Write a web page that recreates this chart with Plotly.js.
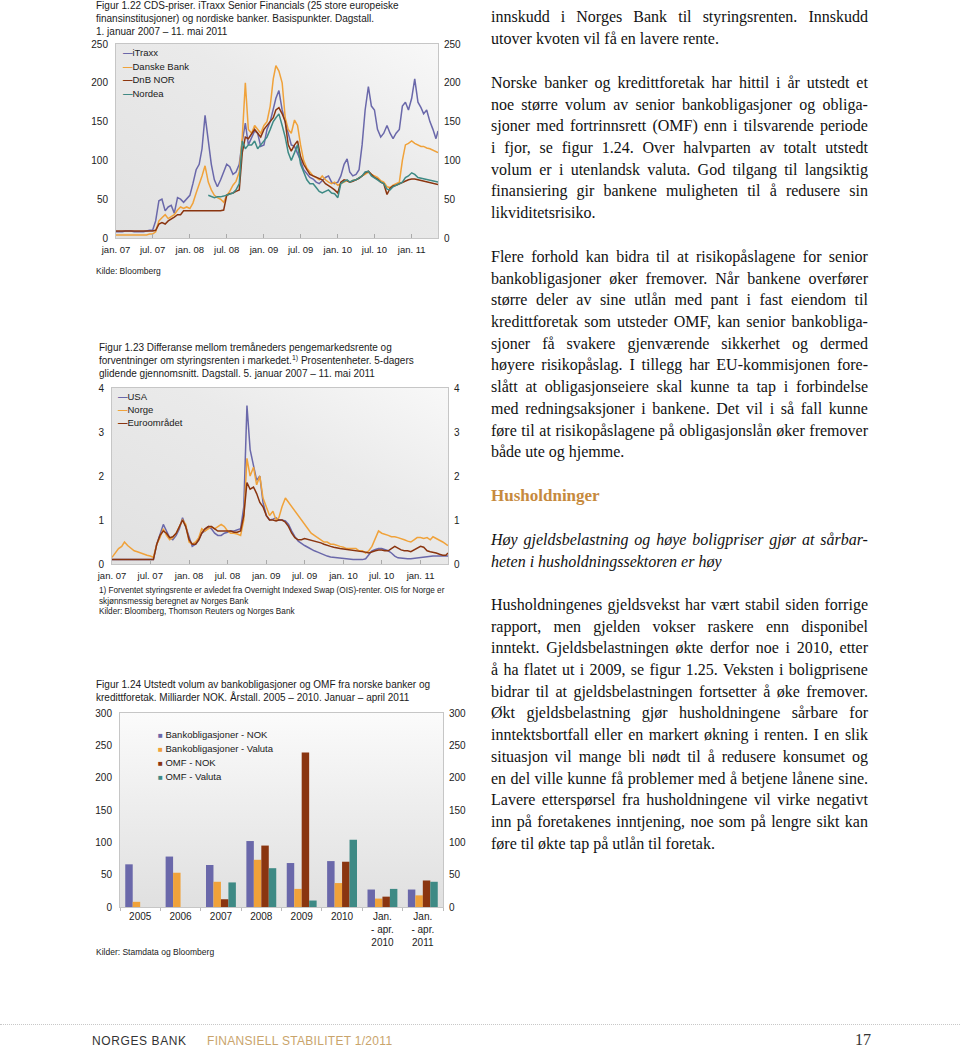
<!DOCTYPE html>
<html>
<head>
<meta charset="utf-8">
<script src="https://cdn.plot.ly/plotly-3.0.1.min.js"></script>
<style>
  html, body { margin:0; padding:0; background:#fff; }
  #page { position:relative; width:960px; height:1050px; overflow:hidden; }
  #plot { position:absolute; left:0; top:0; width:960px; height:1050px; }
  .txt { position:absolute; left:491px; width:377px; font-family:'Liberation Serif','Times New Roman',serif; font-size:16px; color:#111; }
  .ln { height:21.7px; line-height:21.7px; white-space:nowrap; }
  .jl { display:flex; justify-content:space-between; }
  .foot { position:absolute; font-family:'Liberation Sans Narrow','Liberation Sans',Arial,sans-serif; font-size:12px; }
</style>
</head>
<body>
<div id="page">
  <div id="plot"></div>
</div>
<script>
// ---------- DATA ----------
const dates = [
'2007-01-01','2007-01-16','2007-02-01','2007-02-16','2007-03-01','2007-03-16','2007-04-01','2007-04-16','2007-05-01','2007-05-16','2007-06-01','2007-06-16',
'2007-07-01','2007-07-16','2007-08-01','2007-08-16','2007-09-01','2007-09-16','2007-10-01','2007-10-16','2007-11-01','2007-11-16','2007-12-01','2007-12-16',
'2008-01-01','2008-01-16','2008-02-01','2008-02-16','2008-03-01','2008-03-16','2008-04-01','2008-04-16','2008-05-01','2008-05-16','2008-06-01','2008-06-16',
'2008-07-01','2008-07-16','2008-08-01','2008-08-16','2008-09-01','2008-09-16','2008-10-01','2008-10-16','2008-11-01','2008-11-16','2008-12-01','2008-12-16',
'2009-01-01','2009-01-16','2009-02-01','2009-02-16','2009-03-01','2009-03-16','2009-04-01','2009-04-16','2009-05-01','2009-05-16','2009-06-01','2009-06-16',
'2009-07-01','2009-07-16','2009-08-01','2009-08-16','2009-09-01','2009-09-16','2009-10-01','2009-10-16','2009-11-01','2009-11-16','2009-12-01','2009-12-16',
'2010-01-01','2010-01-16','2010-02-01','2010-02-16','2010-03-01','2010-03-16','2010-04-01','2010-04-16','2010-05-01','2010-05-16','2010-06-01','2010-06-16',
'2010-07-01','2010-07-16','2010-08-01','2010-08-16','2010-09-01','2010-09-16','2010-10-01','2010-10-16','2010-11-01','2010-11-16','2010-12-01','2010-12-16',
'2011-01-01','2011-01-16','2011-02-01','2011-02-16','2011-03-01','2011-03-16','2011-04-01','2011-04-16','2011-05-01','2011-05-11'];

// Figur 1.22 (basispunkter)
const names1 = ['iTraxx','Danske Bank','DnB NOR','Nordea'];
const itraxx = [
8,8,8,9,9,9,8,8,8,8,9,10,10,22,48,50,35,40,42,32,52,50,46,50,
55,70,88,95,115,158,125,95,75,66,75,85,95,92,82,85,95,125,148,120,130,138,135,118,
120,140,150,165,180,190,165,150,135,120,118,110,100,88,82,78,76,72,70,74,78,80,72,70,
72,80,95,102,85,80,82,88,120,165,195,170,165,140,130,135,145,135,128,135,140,170,175,165,
180,205,175,168,160,165,150,140,128,138];
const danske = [
4,4,4,4,4,4,4,4,4,4,4,5,5,8,22,26,30,25,27,30,36,40,38,40,
38,45,58,68,80,93,72,62,55,52,50,46,55,60,68,73,85,130,200,140,135,145,140,135,
145,150,170,205,222,215,200,155,140,135,152,145,120,100,90,85,80,78,75,80,75,72,70,72,
68,70,72,74,72,74,75,78,80,82,85,82,80,78,74,72,66,65,68,70,72,100,120,122,
125,122,120,118,118,116,115,113,111,110];
const dnbnor = [
9,9,9,9,9,9,9,9,9,9,9,9,9,10,18,20,18,22,25,27,30,30,35,35,
35,35,35,35,35,35,35,35,35,35,35,36,55,57,58,60,62,110,130,128,135,140,135,130,
140,145,150,155,165,168,160,150,120,112,120,125,105,95,88,82,80,78,77,75,70,68,65,62,
58,72,75,74,72,73,75,77,80,84,86,82,78,76,72,70,56,64,67,68,70,72,74,75,
76,76,75,74,74,73,72,71,70,69];
const nordea = [
null,null,null,null,null,null,null,null,null,null,null,null,null,null,null,null,null,null,null,null,null,null,null,null,
null,null,null,null,null,null,55,54,52,53,53,54,55,56,58,62,70,125,115,120,120,125,115,120,
125,130,140,150,155,160,145,130,110,100,110,120,95,85,75,70,70,65,60,58,60,62,58,57,
52,70,73,75,72,74,75,78,80,85,86,80,78,75,72,70,63,62,66,68,70,72,78,80,
84,82,78,77,76,75,74,73,72,72];

// Figur 1.23 (prosentenheter)
const names2 = ['USA','Norge','Euroområdet'];
const usa = [
0.1,0.1,0.1,0.1,0.1,0.1,0.1,0.1,0.1,0.1,0.1,0.1,0.1,0.1,0.45,0.65,0.9,0.75,0.6,0.55,0.65,0.8,1.05,0.85,
0.6,0.4,0.45,0.55,0.7,0.75,0.85,0.8,0.7,0.65,0.65,0.7,0.72,0.75,0.75,0.78,0.8,1.3,3.6,2.6,2.2,1.9,2.0,1.4,
1.1,1.0,1.02,1.05,1.0,1.0,0.98,0.9,0.75,0.62,0.52,0.46,0.42,0.38,0.33,0.3,0.27,0.24,0.2,0.18,0.16,0.15,0.14,0.13,
0.12,0.11,0.1,0.1,0.1,0.1,0.1,0.12,0.2,0.3,0.33,0.35,0.35,0.33,0.3,0.25,0.18,0.14,0.13,0.12,0.12,0.12,0.13,0.14,
0.15,0.15,0.16,0.17,0.18,0.18,0.18,0.19,0.18,0.18];
const norge = [
0.15,0.25,0.35,0.4,0.5,0.42,0.35,0.3,0.28,0.25,0.22,0.2,0.18,0.15,0.45,0.6,0.8,0.65,0.55,0.6,0.7,0.85,1.0,0.9,
0.5,0.45,0.5,0.6,0.8,0.75,0.8,0.85,0.8,0.85,0.9,0.85,0.75,0.7,0.7,0.68,0.65,1.0,2.4,2.0,2.2,1.8,2.0,1.5,
1.3,1.1,1.2,1.0,1.05,1.3,1.5,1.4,1.3,1.2,1.1,1.0,0.9,0.8,0.7,0.65,0.6,0.55,0.5,0.5,0.45,0.45,0.42,0.4,
0.38,0.35,0.35,0.35,0.35,0.3,0.3,0.25,0.3,0.4,0.6,0.75,0.7,0.68,0.65,0.62,0.62,0.6,0.58,0.55,0.52,0.5,0.55,0.6,
0.6,0.58,0.6,0.55,0.62,0.58,0.55,0.5,0.45,0.42];
const euro = [
0.1,0.1,0.1,0.1,0.1,0.1,0.1,0.1,0.1,0.1,0.1,0.1,0.1,0.1,0.45,0.65,0.75,0.7,0.6,0.62,0.7,0.85,1.0,0.85,
0.55,0.45,0.45,0.55,0.7,0.8,0.85,0.85,0.8,0.75,0.75,0.75,0.75,0.75,0.72,0.72,0.75,1.1,1.85,1.7,1.75,1.6,1.4,1.3,
1.1,1.0,1.0,0.98,1.0,1.0,0.95,0.85,0.7,0.6,0.55,0.55,0.58,0.56,0.55,0.52,0.5,0.48,0.45,0.42,0.4,0.38,0.36,0.35,
0.34,0.33,0.32,0.31,0.3,0.3,0.28,0.27,0.25,0.28,0.3,0.32,0.32,0.3,0.3,0.35,0.4,0.36,0.32,0.3,0.3,0.28,0.32,0.36,
0.4,0.38,0.3,0.28,0.27,0.25,0.22,0.2,0.2,0.25];

const tickDates = ['2007-01-01','2007-07-01','2008-01-01','2008-07-01','2009-01-01','2009-07-01','2010-01-01','2010-07-01','2011-01-01'];
const tickLabels = ['jan. 07','jul. 07','jan. 08','jul. 08','jan. 09','jul. 09','jan. 10','jul. 10','jan. 11'];

// Figur 1.24 (milliarder NOK)
const names3 = ['Bankobligasjoner - NOK','Bankobligasjoner - Valuta','OMF - NOK','OMF - Valuta'];
const barCategories = ['2005','2006','2007','2008','2009','2010','Jan.<br>- apr.<br>2010','Jan.<br>- apr.<br>2011'];
const bankNOK    = [66,78,65,102,68,71,27,27];
const bankValuta = [8,53,39,73,28,37,13,18];
const omfNOK     = [0,0,12,95,239,70,16,41];
const omfValuta  = [0,0,38,60,10,104,28,39];

// ---------- CHART ----------
const SANS = 'Liberation Sans, Arial, sans-serif';
const C_PURPLE = '#6a68aa', C_ORANGE = '#f0a23a', C_BROWN = '#8a3510', C_TEAL = '#3e8a85';
const colors = [C_PURPLE, C_ORANGE, C_BROWN, C_TEAL];
const W = 960, H = 1050;
const px = v => v / W;
const py = v => 1 - v / H;

const dom1 = {x:[px(116), px(438)], y:[py(238), py(44)]};
const dom2 = {x:[px(112), px(448)], y:[py(564), py(388)]};
const dom3 = {x:[px(120), px(443)], y:[py(907), py(713)]};

function line(x, y, name, color, xa, ya) {
  return {type:'scatter', mode:'lines', x:x, y:y, name:name, xaxis:xa, yaxis:ya, showlegend:false,
          line:{color:color, width:1.5}, connectgaps:false, hoverinfo:'skip'};
}
function bar(x, y, name, color) {
  return {type:'bar', x:x, y:y, name:name, xaxis:'x3', yaxis:'y5', showlegend:false,
          marker:{color:color, line:{width:0}}, hoverinfo:'skip'};
}
// empty helper traces so the mirrored right-hand value axes get drawn
function axisHelper(xa, ya) {
  return {type:'scatter', mode:'lines', x:[], y:[], xaxis:xa, yaxis:ya, showlegend:false, hoverinfo:'skip'};
}

const traces = [
  line(dates, itraxx, names1[0], C_PURPLE, 'x', 'y'),
  line(dates, danske, names1[1], C_ORANGE, 'x', 'y'),
  line(dates, dnbnor, names1[2], C_BROWN, 'x', 'y'),
  line(dates, nordea, names1[3], C_TEAL, 'x', 'y'),
  line(dates, usa, names2[0], C_PURPLE, 'x2', 'y3'),
  line(dates, norge, names2[1], C_ORANGE, 'x2', 'y3'),
  line(dates, euro, names2[2], C_BROWN, 'x2', 'y3'),
  bar(barCategories, bankNOK, names3[0], C_PURPLE),
  bar(barCategories, bankValuta, names3[1], C_ORANGE),
  bar(barCategories, omfNOK, names3[2], C_BROWN),
  bar(barCategories, omfValuta, names3[3], C_TEAL),
  axisHelper('x', 'y2'),
  axisHelper('x2', 'y4'),
  axisHelper('x3', 'y6')
];

const FRAME = '#c6c6c6';
function dateAxis(domain, anchor) {
  return {domain:domain, anchor:anchor, type:'date', range:['2007-01-01','2011-05-11'],
    tickmode:'array', tickvals:tickDates, ticktext:tickLabels, ticks:'inside', ticklen:4, tickcolor:'#aaa',
    showline:true, linecolor:FRAME, linewidth:1, mirror:true, showgrid:false, zeroline:false,
    ticklabelstandoff:3,
    tickfont:{size:9.5, color:'#222', family:SANS}, fixedrange:true};
}
function valAxis(domain, anchor, range, vals, right, over) {
  const a = {anchor:anchor, range:range, tickmode:'array', tickvals:vals, ticks:'',
    showgrid:false, zeroline:false, tickfont:{size:10, color:'#222', family:SANS},
    ticklabelstandoff:5, fixedrange:true};
  if (right) { a.overlaying = over; a.side = 'right'; a.showline = false; }
  else { a.domain = domain; a.showline = true; a.linecolor = FRAME; a.mirror = true; }
  return a;
}

function gradImg(domain, vertical) {
  const g = vertical
    ? "<linearGradient id='g' x1='0' y1='0' x2='0' y2='1'><stop offset='0' stop-color='#fbfbfb'/><stop offset='0.45' stop-color='#eeeeee'/><stop offset='1' stop-color='#e0e0e0'/></linearGradient>"
    : "<linearGradient id='g' x1='0' y1='1' x2='1' y2='0'><stop offset='0' stop-color='#e1e1e1'/><stop offset='0.6' stop-color='#eaeaea'/><stop offset='1' stop-color='#f8f8f8'/></linearGradient>";
  const svg = "<svg xmlns='http://www.w3.org/2000/svg' width='200' height='120' viewBox='0 0 200 120' preserveAspectRatio='none'><defs>" + g + "</defs><rect width='200' height='120' fill='url(#g)'/></svg>";
  return {source:'data:image/svg+xml;charset=utf-8,' + encodeURIComponent(svg), xref:'paper', yref:'paper',
    x:domain.x[0], y:domain.y[1], sizex:domain.x[1]-domain.x[0], sizey:domain.y[1]-domain.y[0],
    xanchor:'left', yanchor:'top', sizing:'stretch', layer:'below'};
}

function note(text, x, yc, size) {
  return {text:text, x:px(x), y:py(yc), xref:'paper', yref:'paper', xanchor:'left', yanchor:'middle',
    align:'left', showarrow:false, font:{family:SANS, size:size, color:'#1a1a1a'}};
}
// compact legend entries (line sample as a coloured dash, bar sample as a coloured square)
function legendEntries(names, x, y0, step, square) {
  return names.map((n, i) => note(
    square ? '<span style="color:' + colors[i] + ';font-size:8px">■</span> ' + n
           : '<span style="color:' + colors[i] + '"><b>—</b></span>' + n,
    x, y0 + i * step, 9.5));
}

const layout = {
  width:W, height:H, margin:{l:0, r:0, t:0, b:0, pad:0},
  paper_bgcolor:'#ffffff', plot_bgcolor:'rgba(0,0,0,0)',
  font:{family:SANS, size:10, color:'#222'}, hovermode:false, showlegend:false,
  barmode:'group', bargap:0.26, bargroupgap:0,
  xaxis: dateAxis(dom1.x, 'y'),
  yaxis: valAxis(dom1.y, 'x', [0,250], [0,50,100,150,200,250], false),
  yaxis2: valAxis(null, 'x', [0,250], [0,50,100,150,200,250], true, 'y'),
  xaxis2: dateAxis(dom2.x, 'y3'),
  yaxis3: valAxis(dom2.y, 'x2', [0,4], [0,1,2,3,4], false),
  yaxis4: valAxis(null, 'x2', [0,4], [0,1,2,3,4], true, 'y3'),
  xaxis3: {domain:dom3.x, anchor:'y5', type:'category', categoryorder:'array', categoryarray:barCategories,
    showline:true, linecolor:FRAME, mirror:true, ticks:'outside', ticklen:3, tickcolor:'#bbb', tickson:'boundaries',
    showgrid:false, zeroline:false, tickfont:{size:10, color:'#222', family:SANS}, fixedrange:true},
  yaxis5: valAxis(dom3.y, 'x3', [0,300], [0,50,100,150,200,250,300], false),
  yaxis6: valAxis(null, 'x3', [0,300], [0,50,100,150,200,250,300], true, 'y5'),
  images: [gradImg(dom1, false), gradImg(dom2, false), gradImg(dom3, true)],
  annotations: [
    note('Figur 1.22 CDS-priser. iTraxx Senior Financials (25 store europeiske<br>finansinstitusjoner) og nordiske banker. Basispunkter. Dagstall.<br>1. januar 2007 – 11. mai 2011', 94, 19, 10),
    note('Kilde: Bloomberg', 94, 271, 8.5),
    note('Figur 1.23 Differanse mellom tremåneders pengemarkedsrente og<br>forventninger om styringsrenten i markedet.<sup>1)</sup> Prosentenheter. 5-dagers<br>glidende gjennomsnitt. Dagstall. 5. januar 2007 – 11. mai 2011', 97, 360, 10),
    note('1) Forventet styringsrente er avledet fra Overnight Indexed Swap (OIS)-renter. OIS for Norge er<br>skjønnsmessig beregnet av Norges Bank<br>Kilder: Bloomberg, Thomson Reuters og Norges Bank', 97, 601, 8.2),
    note('Figur 1.24 Utstedt volum av bankobligasjoner og OMF fra norske banker og<br>kredittforetak. Milliarder NOK. Årstall. 2005 – 2010. Januar – april 2011', 94, 691, 10),
    note('Kilder: Stamdata og Bloomberg', 94, 952, 8.5)
  ].concat(
    legendEntries(names1, 121, 53, 13.4, false),
    legendEntries(names2, 116, 397, 12.7, false),
    legendEntries(names3, 156, 734, 14.3, true)
  )
};

Plotly.newPlot('plot', traces, layout, {staticPlot:true, displayModeBar:false});

// ---------- BODY TEXT (right column) ----------
const blocks = [
  {top:6, lines:['innskudd i Norges Bank til styringsrenten. Innskudd','utover kvoten vil få en lavere rente.']},
  {top:72, lines:['Norske banker og kredittforetak har hittil i år utstedt et','noe større volum av senior bankobligasjoner og obliga-','sjoner med fortrinnsrett (OMF) enn i tilsvarende periode','i fjor, se figur 1.24. Over halvparten av totalt utstedt','volum er i utenlandsk valuta. God tilgang til langsiktig','finansiering gir bankene muligheten til å redusere sin','likviditetsrisiko.']},
  {top:246, lines:['Flere forhold kan bidra til at risikopåslagene for senior','bankobligasjoner øker fremover. Når bankene overfører','større deler av sine utlån med pant i fast eiendom til','kredittforetak som utsteder OMF, kan senior bankobliga-','sjoner få svakere gjenværende sikkerhet og dermed','høyere risikopåslag. I tillegg har EU-kommisjonen fore-','slått at obligasjonseiere skal kunne ta tap i forbindelse','med redningsaksjoner i bankene. Det vil i så fall kunne','føre til at risikopåslagene på obligasjonslån øker fremover','både ute og hjemme.']},
  {top:529, italic:true, lines:['Høy gjeldsbelastning og høye boligpriser gjør at sårbar-','heten i husholdningssektoren er høy']},
  {top:594, lines:['Husholdningenes gjeldsvekst har vært stabil siden forrige','rapport, men gjelden vokser raskere enn disponibel','inntekt. Gjeldsbelastningen økte derfor noe i 2010, etter','å ha flatet ut i 2009, se figur 1.25. Veksten i boligprisene','bidrar til at gjeldsbelastningen fortsetter å øke fremover.','Økt gjeldsbelastning gjør husholdningene sårbare for','inntektsbortfall eller en markert økning i renten. I en slik','situasjon vil mange bli nødt til å redusere konsumet og','en del ville kunne få problemer med å betjene lånene sine.','Lavere etterspørsel fra husholdningene vil virke negativt','inn på foretakenes inntjening, noe som på lengre sikt kan','føre til økte tap på utlån til foretak.']}
];
const page = document.getElementById('page');
blocks.forEach(b => {
  const d = document.createElement('div');
  d.className = 'txt';
  d.style.top = b.top + 'px';
  if (b.italic) d.style.fontStyle = 'italic';
  b.lines.forEach((t, i) => {
    const l = document.createElement('div');
    l.className = 'ln';
    if (i < b.lines.length - 1) {
      l.classList.add('jl');
      t.split(' ').forEach((w, k, arr) => {
        const s = document.createElement('span');
        s.textContent = w;
        l.appendChild(s);
        if (k < arr.length - 1) l.appendChild(document.createTextNode(' '));
      });
    } else {
      l.textContent = t;
    }
    d.appendChild(l);
  });
  page.appendChild(d);
});
const h = document.createElement('div');
h.className = 'txt';
h.style.top = '485px';
h.style.fontWeight = 'bold';
h.style.fontSize = '17px';
h.style.color = '#c68a3e';
h.style.lineHeight = '22px';
h.textContent = 'Husholdninger';
page.appendChild(h);

// footer
const rule = document.createElement('div');
rule.style.cssText = 'position:absolute;left:0;top:1024px;width:960px;border-top:1px dotted #c8c8c8;';
page.appendChild(rule);
function foot(text, left, color, extra) {
  const f = document.createElement('div');
  f.className = 'foot';
  f.style.cssText += 'left:' + left + 'px;top:1034px;color:' + color + ';' + (extra || '');
  f.textContent = text;
  page.appendChild(f);
}
foot('NORGES BANK', 92, '#333', 'letter-spacing:0.6px;');
foot('FINANSIELL STABILITET 1/2011', 207, '#c9a46b', 'letter-spacing:0.3px;');
foot('17', 855, '#333', "font-family:'Liberation Serif',serif;font-size:16px;top:1031px;");
</script>
</body>
</html>
